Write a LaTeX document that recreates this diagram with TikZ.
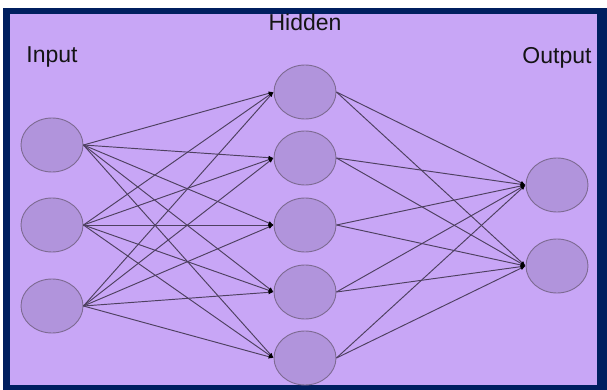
\documentclass[tikz,border=0pt]{standalone}
\usepackage{fontspec}
\setmainfont{Liberation Sans}
\usetikzlibrary{arrows.meta,shapes.geometric}
\definecolor{navy}{HTML}{001F5F}
\definecolor{lilac}{HTML}{C8A6F6}
\definecolor{neuron}{HTML}{B194DC}
\definecolor{rim}{HTML}{7D6A92}
\definecolor{wire}{HTML}{4E4060}
\begin{document}
\begin{tikzpicture}[x=1pt,y=-1pt,
  neuronnode/.style={ellipse,draw=rim,fill=neuron,line width=0.9pt,minimum width=62pt,minimum height=54pt,inner sep=0pt},
  layerlbl/.style={text=black!92,font=\fontsize{23}{26}\selectfont,inner sep=0pt,anchor=base},
  synapse/.style={wire,line width=0.95pt,-{Latex[length=5pt,width=4pt,black]}}]
\def\xIn{52};
\def\xHid{305};
\def\xOut{557};
\useasboundingbox (0,0) rectangle (607,390);
\fill[white] (0,0) rectangle (607,390);
\fill[navy] (3,8) rectangle (607,390);
\fill[lilac] (10,14) rectangle (597,385);
\node[layerlbl] (inlbl) at (\xIn,63) {Input};
\node[layerlbl] (hidlbl) at (\xHid,31) {Hidden};
\node[layerlbl] (outlbl) at (\xOut,64) {Output};
\foreach \i/\y in {1/145,2/225,3/306} \node[neuronnode] (i\i) at (\xIn,\y) {};
\foreach \h/\y in {1/92,2/158,3/225,4/292,5/358} \node[neuronnode] (h\h) at (\xHid,\y) {};
\foreach \o/\y in {1/185,2/266} \node[neuronnode] (o\o) at (\xOut,\y) {};
\foreach \i in {1,2,3} \foreach \h in {1,...,5} \draw[synapse] (i\i.east) -- (h\h.west);
\foreach \h in {1,...,5} \foreach \o in {1,2} \draw[synapse] (h\h.east) -- (o\o.west);
\end{tikzpicture}
\end{document}
